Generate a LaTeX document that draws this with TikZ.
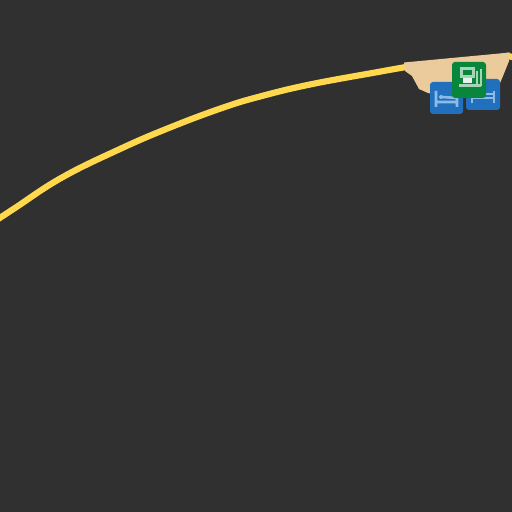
\documentclass[tikz,border=0pt]{standalone}
\usepackage{xcolor}
\usetikzlibrary{calc}
\definecolor{mapbg}{RGB}{48,48,48}
\definecolor{roadyellow}{RGB}{255,216,77}
\definecolor{landbeige}{RGB}{235,203,155}
\definecolor{hotelblue}{RGB}{32,112,190}
\definecolor{iconpale}{RGB}{140,188,230}
\definecolor{sitegreen}{RGB}{8,135,60}
\definecolor{sitepale}{RGB}{165,212,182}
\tikzset{
  iconbox/.style={rounded corners=1.5pt, line width=0pt},
  bedline/.style={iconpale, line width=1.3pt},
  roadline/.style={roadyellow, line width=3.1pt, line join=round}
}
\begin{document}
\begin{tikzpicture}[x=0.5pt, y=-0.5pt]
  \useasboundingbox (0,0) rectangle (512,512);
  \fill[mapbg] (0,0) rectangle (512,512);
  % road
  \draw[roadline] plot[smooth, tension=0.7] coordinates {(-4,220.5)(15,208)(62,177.5)(120,149)(170,127.5)(222,108)(260,96.5)(310,84.5)(378,72)(406,67)};
  \draw[roadline] (506,55.5) -- (514,57.5);
  % land patch
  \fill[landbeige] (404,62.5) -- (510,52.5) -- (509,61) -- (503,76) -- (497,90) -- (440,96) -- (428,93) -- (419,89) -- (412,76) -- (405,71) -- cycle;
  % right bed
  \fill[hotelblue, iconbox] (466,79) rectangle (500,110);
  \draw[bedline] (472,91) -- (472,103) (472,98) -- (494,98) (494,91) -- (494,103) (472,94) -- (494,94);
  % left bed
  \fill[hotelblue, iconbox] (430,82) rectangle (463,114);
  \draw[bedline] (436,91) -- (436,107) (436,102) -- (457,102) (457,97) -- (457,107) (442,97) -- (457,98);
  \fill[iconpale] (441,97) circle (2);
  % green marker
  \fill[sitegreen, iconbox] (452,62) rectangle (486,98);
  \draw[sitepale, line width=1.5pt] (461,69) rectangle (473,77);
  \draw[sitepale, line width=1.3pt] (477,71) -- (477,85) (481,69) -- (481,86);
  \fill[white!90!sitegreen] (463,78) rectangle (472,83);
  \fill[sitepale] (459,84) -- (481,84) -- (481,87) -- (459,87) -- cycle;
\end{tikzpicture}
\end{document}
